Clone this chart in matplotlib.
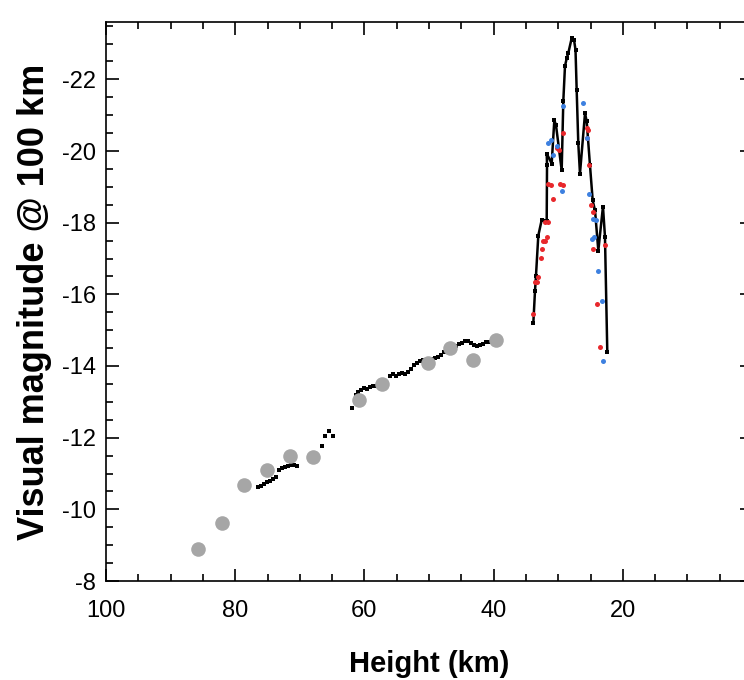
import matplotlib
matplotlib.use("Agg")
import matplotlib.pyplot as plt
from matplotlib.ticker import MultipleLocator

plt.rcParams['font.family'] = ['Liberation Sans', 'DejaVu Sans']
plt.rcParams['axes.unicode_minus'] = False

# grey circles (earlier estimate)
grey_h = [85.76, 82.04, 78.64, 75.08, 71.52, 67.96, 60.84, 57.28, 50.15, 46.75, 43.19, 39.63]
grey_mag = [-8.90, -9.62, -10.69, -11.11, -11.50, -11.45, -13.04, -13.49, -14.08, -14.50, -14.16, -14.72]

# small black squares, upper atmosphere part
low_h = [76.47, 76.01, 75.54, 75.08, 74.61, 74.15, 73.68,
         73.22, 72.76, 72.29, 71.83, 71.36, 70.90, 70.43,
         66.56, 66.10, 65.48, 64.86,
         61.92, 61.30, 60.99, 60.53, 60.06, 59.60, 59.13, 58.67, 58.20, 57.74, 57.28, 56.81,
         56.04, 55.57, 55.11, 54.64, 54.18, 53.72, 53.25, 52.79, 52.32, 51.86, 51.39,
         50.93, 50.46, 50.00, 49.54, 49.07, 48.61, 48.14, 47.68, 47.21, 46.75, 46.28, 45.82,
         45.36, 44.89, 44.43, 43.96, 43.50, 43.03, 42.57, 42.11, 41.64, 41.18, 40.71]
low_mag = [-10.62, -10.66, -10.70, -10.75, -10.80, -10.84, -10.89,
           -11.10, -11.14, -11.17, -11.21, -11.24, -11.25, -11.22,
           -11.78, -12.06, -12.19, -12.06,
           -12.82, -13.18, -13.27, -13.32, -13.38, -13.36, -13.41, -13.43, -13.43, -13.46, -13.49, -13.52,
           -13.71, -13.77, -13.73, -13.78, -13.80, -13.78, -13.83, -13.91, -14.02, -14.08, -14.13,
           -14.16, -14.18, -14.19, -14.20, -14.23, -14.25, -14.30, -14.39, -14.44, -14.48, -14.51, -14.55,
           -14.61, -14.65, -14.69, -14.69, -14.64, -14.58, -14.55, -14.58, -14.62, -14.67, -14.68]

# light curve at the flare (black line)
peak_h = [33.85, 33.59, 33.44, 33.08, 32.55, 31.78, 31.73, 31.78, 31.01, 30.60, 30.34, 29.46,
          29.21, 28.95, 28.68, 28.44, 27.91, 27.55, 27.32, 27.14, 26.89, 26.63, 25.85, 25.59,
          25.08, 24.66, 24.30, 23.79, 23.07, 22.76, 22.40]
peak_mag = [-15.20, -16.10, -16.52, -17.64, -18.08, -18.06, -19.62, -19.93, -19.65, -20.86, -20.72, -19.46,
            -21.39, -22.37, -22.59, -22.73, -23.15, -23.10, -22.82, -21.70, -20.21, -19.37, -21.05, -20.83,
            -19.60, -18.62, -18.34, -17.22, -18.45, -17.61, -14.39]

# red and blue camera points
red_h = [33.85, 33.59, 33.33, 33.08, 32.71, 32.55, 32.31, 32.04, 31.78, 32.04, 31.53, 31.53, 31.16,
         30.76, 30.23, 29.83, 29.72, 29.30, 29.21, 25.50, 25.34, 25.50, 25.19, 24.92, 24.57, 24.66,
         24.04, 23.53, 22.76]
red_mag = [-15.45, -16.35, -16.35, -16.49, -17.02, -17.27, -17.50, -17.50, -17.61, -18.03, -18.03, -19.09, -19.04,
           -18.67, -20.07, -20.02, -19.09, -19.04, -20.49, -20.63, -20.58, -20.35, -19.60, -18.48, -18.31, -17.27,
           -15.73, -14.53, -17.38]

blue_h = [26.11, 29.21, 31.16, 31.53, 30.85, 30.23, 29.46, 25.59, 25.19, 24.57, 24.81, 24.46, 24.15,
          23.79, 23.27, 23.02]
blue_mag = [-21.33, -21.25, -20.30, -20.21, -19.88, -20.13, -18.87, -20.35, -18.81, -18.11, -17.55, -17.61, -18.08,
            -16.66, -15.82, -14.13]

fig = plt.figure(figsize=(7.44, 6.8), dpi=100)
ax = fig.add_axes([106 / 744, 99 / 680, 646 / 744, 559 / 680])

ax.plot(low_h, low_mag, 's', color='black', ms=3, mew=0, zorder=2)
ax.plot(grey_h, grey_mag, 'o', color='#a6a6a6', ms=10.5, mew=0, zorder=3)
ax.plot(peak_h, peak_mag, '-s', color='black', lw=1.8, ms=3.2, mew=0, zorder=3)
ax.plot(red_h, red_mag, 'o', color='#e8282c', ms=3.6, mew=0, zorder=4)
ax.plot(blue_h, blue_mag, 'o', color='#3d80e0', ms=3.6, mew=0, zorder=4)

ax.set_xlim(100, 0)
ax.set_ylim(-8, -23.6)
ax.set_xticks([100, 80, 60, 40, 20])
ax.xaxis.set_minor_locator(MultipleLocator(5))
ax.set_yticks(range(-8, -23, -2))
ax.yaxis.set_minor_locator(MultipleLocator(0.5))
ax.tick_params(which='both', direction='in', top=True, right=True, width=1.2, labelsize=17)
ax.tick_params(which='major', length=9)
ax.tick_params(which='minor', length=5)
ax.tick_params(axis='x', pad=14)
ax.tick_params(axis='y', pad=7)
for sp in ax.spines.values():
    sp.set_linewidth(1.2)

ax.set_xlabel('Height (km)', fontsize=21, fontweight='bold', labelpad=20)
ax.set_ylabel('Visual magnitude @ 100 km', fontsize=26, fontweight='bold', labelpad=7)

fig.savefig('out.png', dpi=100)
